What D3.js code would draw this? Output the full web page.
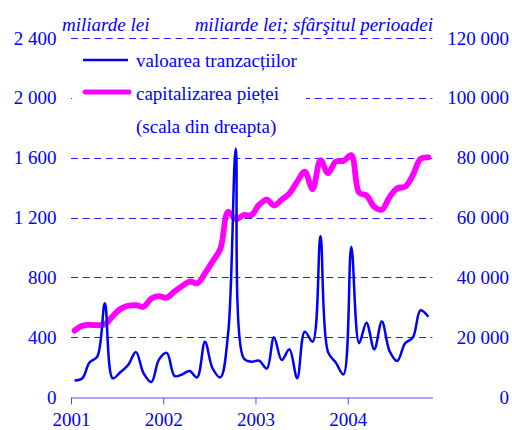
<!DOCTYPE html>
<html>
<head>
<meta charset="utf-8">
<script src="https://cdn.jsdelivr.net/npm/d3@7"></script>
<style>
  body { margin: 0; background: #fff; }
  svg { display: block; font-family: "Liberation Serif", "Times New Roman", serif; }
</style>
</head>
<body>
<div id="chart"></div>
<script>
// monthly data, Jan 2001 - Nov 2004
var firstMonth = "2001-01";
var tranzactii = [
    110, 125, 230, 270, 626, 125, 165, 214, 300, 160, 100, 250,
    295, 140, 150, 174, 131, 370, 192, 131, 430, 1660, 260, 236,
    243, 190, 400, 247, 319, 125, 437, 370, 1076, 300, 230, 151,
    1005, 360, 497, 319, 504, 305, 241, 359, 399, 580, 537
];
var capitalizare = [
    22200, 23800, 24100, 24000, 24300, 27000, 29400, 30500, 30700, 30200, 32900, 33700,
    33200, 35300, 37000, 38600, 38000, 41300, 45300, 49500, 61900, 59400, 60800, 60800,
    64200, 66000, 64000, 66000, 68000, 72000, 75300, 69500, 79200, 74800, 78700, 78900,
    80800, 68300, 67400, 63600, 62600, 66900, 69800, 70300, 74200, 79600, 80100
];
var years = [2001, 2002, 2003, 2004];
var leftTicks = [0, 400, 800, 1200, 1600, 2000, 2400];
var rightTicks = [0, 20000, 40000, 60000, 80000, 100000, 120000];

var blue = "#0000ff", pink = "#ff00ff", textColor = "#0000ff";

var width = 512, height = 430;
var plot = {left: 71, right: 432.4, top: 38, bottom: 397};

var svg = d3.select("#chart")
    .append("svg")
    .attr("width", width)
    .attr("height", height);

// month i drawn in the middle of the month
var start = d3.timeParse("%Y-%m")(firstMonth);
function monthDate(i) { return new Date(start.getFullYear(), start.getMonth() + i, 15); }

var x = d3.scaleTime()
    .domain([new Date(2001, 0, 1), new Date(2004, 11, 1)])
    .range([plot.left, plot.right]);
var yLeft = d3.scaleLinear().domain([0, 2400]).range([plot.bottom, plot.top]);
var yRight = d3.scaleLinear().domain([0, 120000]).range([plot.bottom, plot.top]);

var ro = d3.formatLocale({decimal: ",", thousands: " ", grouping: [3], currency: ["", ""]});
var fmt = ro.format(",d");

// dashed gridlines
svg.append("g")
    .selectAll("line")
    .data(leftTicks.filter(function(d){ return d > 0; }))
    .enter()
    .append("line")
    .attr("x1", plot.left)
    .attr("x2", plot.right)
    .attr("y1", function(d){ return Math.round(yLeft(d)) + 0.5; })
    .attr("y2", function(d){ return Math.round(yLeft(d)) + 0.5; })
    .attr("stroke", "#1f1fff")
    .attr("stroke-width", 1)
    .attr("stroke-dasharray", "7,4.6");

// Left axis
var gl = svg.append("g")
    .attr("transform", "translate(" + plot.left + ",0)")
    .call(d3.axisLeft(yLeft).tickValues(leftTicks).tickSize(0).tickPadding(14.5).tickFormat(fmt));
gl.select(".domain").remove();

// Right axis
var gr = svg.append("g")
    .attr("transform", "translate(" + plot.right + ",0)")
    .call(d3.axisRight(yRight).tickValues(rightTicks).tickSize(0).tickFormat(fmt));
gr.select(".domain").remove();
gr.selectAll("text").attr("x", 509 - plot.right).attr("text-anchor", "end");

// Bottom axis
var gb = svg.append("g")
    .attr("transform", "translate(0," + (plot.bottom + 0.5) + ")")
    .call(d3.axisBottom(x)
        .tickValues(years.map(function(y){ return new Date(y, 0, 1); }))
        .tickSize(7).tickSizeOuter(0).tickPadding(8)
        .tickFormat(d3.timeFormat("%Y")));
gb.select(".domain").attr("stroke", "#5050ff");
gb.selectAll(".tick line").attr("stroke", "#5050ff");

[gl, gr, gb].forEach(function(g){
    g.attr("font-family", null).attr("font-size", 19);
    g.selectAll("text").attr("fill", textColor);
});

// Lines
var pinkLine = d3.line()
    .x(function(d, i){ return x(monthDate(i)); })
    .y(function(d){ return yRight(d); })
    .curve(d3.curveCatmullRom.alpha(0.5));
var blueLine = d3.line()
    .x(function(d, i){ return x(monthDate(i)); })
    .y(function(d){ return yLeft(d); })
    .curve(d3.curveCatmullRom.alpha(0.5));

svg.append("path")
    .datum(capitalizare)
    .attr("d", pinkLine)
    .attr("fill", "none")
    .attr("stroke", pink)
    .attr("stroke-width", 5.8)
    .attr("stroke-linecap", "round")
    .attr("stroke-linejoin", "round");

svg.append("path")
    .datum(tranzactii)
    .attr("d", blueLine)
    .attr("fill", "none")
    .attr("stroke", blue)
    .attr("stroke-width", 2.5)
    .attr("stroke-linejoin", "round");

// Legend (white box hides the gridline behind it)
var legend = svg.append("g");
legend.append("rect")
    .attr("x", 72).attr("y", 45)
    .attr("width", 234).attr("height", 95)
    .attr("fill", "#fff");
legend.append("line")
    .attr("x1", 83).attr("x2", 128).attr("y1", 60).attr("y2", 60)
    .attr("stroke", blue).attr("stroke-width", 2.5);
legend.append("line")
    .attr("x1", 85).attr("x2", 129).attr("y1", 92).attr("y2", 92)
    .attr("stroke", pink).attr("stroke-width", 5).attr("stroke-linecap", "round");
var legendText = [["valoarea tranzacțiilor", 67], ["capitalizarea pieței", 100], ["(scala din dreapta)", 133]];
legend.selectAll("text")
    .data(legendText)
    .enter()
    .append("text")
    .attr("x", 136)
    .attr("y", function(d){ return d[1]; })
    .attr("font-size", 19)
    .attr("fill", textColor)
    .text(function(d){ return d[0]; });

// Unit titles
svg.append("text")
    .attr("x", 62).attr("y", 31)
    .attr("font-size", 19).attr("font-style", "italic")
    .attr("fill", textColor)
    .text("miliarde lei");
svg.append("text")
    .attr("x", 433).attr("y", 31)
    .attr("text-anchor", "end")
    .attr("font-size", 19).attr("font-style", "italic")
    .attr("fill", textColor)
    .text("miliarde lei; sfârşitul perioadei");
</script>
</body>
</html>
